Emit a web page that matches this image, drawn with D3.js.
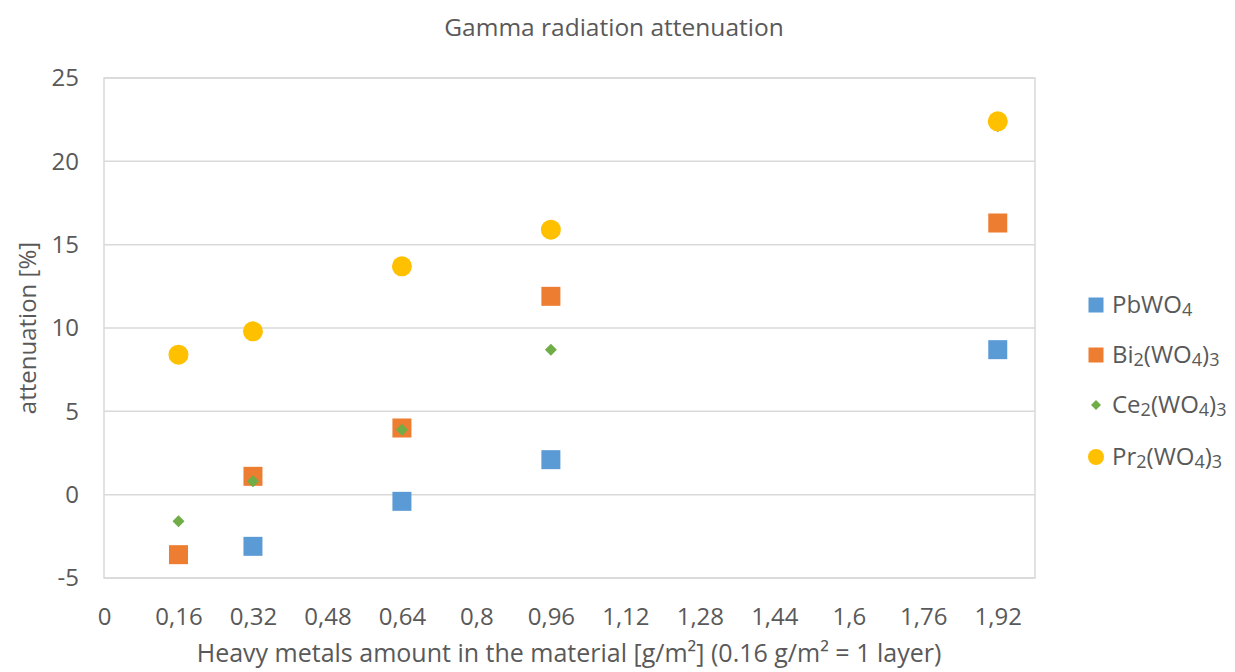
<!DOCTYPE html>
<html>
<head>
<meta charset="utf-8">
<script src="https://cdn.jsdelivr.net/npm/d3@7"></script>
<style>
  body { margin: 0; background: #fff; }
  text { font-family: "Open Sans", sans-serif; fill: #595959; }
</style>
</head>
<body>
<div id="chart"></div>
<script>
// data
var xValues = [0.16, 0.32, 0.64, 0.96, 1.92];
var pbwo4 = [null, -3.1, -0.4, 2.1, 8.7];
var bi2wo43 = [-3.6, 1.1, 4.0, 11.9, 16.3];
var ce2wo43 = [-1.6, 0.8, 3.9, 8.7, 22.1];
var pr2wo43 = [8.4, 9.8, 13.7, 15.9, 22.4];

var xTicks = [0, 0.16, 0.32, 0.48, 0.64, 0.8, 0.96, 1.12, 1.28, 1.44, 1.6, 1.76, 1.92];
var yTicks = [-5, 0, 5, 10, 15, 20, 25];

// legend names, [text, isSubscript]
var seriesNames = [
  [["PbWO", 0], ["4", 1]],
  [["Bi", 0], ["2", 1], ["(WO", 0], ["4", 1], [")", 0], ["3", 1]],
  [["Ce", 0], ["2", 1], ["(WO", 0], ["4", 1], [")", 0], ["3", 1]],
  [["Pr", 0], ["2", 1], ["(WO", 0], ["4", 1], [")", 0], ["3", 1]]
];
var seriesColors = ["#5B9BD5", "#ED7D31", "#70AD47", "#FFC000"];
var seriesShapes = ["square", "square", "diamond", "circle"];
var seriesValues = [pbwo4, bi2wo43, ce2wo43, pr2wo43];

var svgWidth = 1235;
var svgHeight = 672;

var margin = { top: 78, left: 104 };
var width = 1035 - margin.left;
var height = 578 - margin.top;

var svg = d3.select("#chart")
  .append("svg")
  .attr("width", svgWidth)
  .attr("height", svgHeight);

var chartGroup = svg.append("g")
  .attr("transform", `translate(${margin.left}, ${margin.top})`);

var xScale = d3.scaleLinear().domain([0, 2]).range([0, width]);
var yScale = d3.scaleLinear().domain([-5, 25]).range([height, 0]);

// gridlines
chartGroup.append("g")
  .selectAll("line")
  .data(yTicks)
  .enter()
  .append("line")
  .attr("x1", 0)
  .attr("x2", width)
  .attr("y1", d => yScale(d))
  .attr("y2", d => yScale(d))
  .attr("stroke", "#D9D9D9")
  .attr("stroke-width", 1.5);

// plot border
chartGroup.append("rect")
  .attr("x", 0)
  .attr("y", 0)
  .attr("width", width)
  .attr("height", height)
  .attr("fill", "none")
  .attr("stroke", "#D9D9D9")
  .attr("stroke-width", 1.5);

// axes (labels only, Excel style)
var bottomAxis = d3.axisBottom(xScale)
  .tickValues(xTicks)
  .tickSize(0)
  .tickPadding(30)
  .tickFormat(d => String(+d.toFixed(2)).replace(".", ","));

var leftAxis = d3.axisLeft(yScale)
  .tickValues(yTicks)
  .tickSize(0)
  .tickPadding(25)
  .tickFormat(d => d < 0 ? "-" + Math.abs(d) : d);

var xAxis = chartGroup.append("g")
  .attr("transform", `translate(0, ${height})`)
  .call(bottomAxis);

var yAxis = chartGroup.append("g")
  .call(leftAxis);

[xAxis, yAxis].forEach(function(ax) {
  ax.select(".domain").remove();
  ax.selectAll("text")
    .attr("font-family", "Open Sans, sans-serif")
    .attr("font-size", "24px")
    .attr("fill", "#595959");
});

// markers
function drawMarker(g, shape, color, big) {
  var s;
  if (shape === "square") {
    s = big ? 19 : 15;
    g.append("rect")
      .attr("x", -s / 2).attr("y", -s / 2)
      .attr("width", s).attr("height", s)
      .attr("fill", color);
  } else if (shape === "circle") {
    s = big ? 10 : 8;
    g.append("circle").attr("r", s).attr("fill", color);
  } else {
    s = big ? 6 : 5;
    g.append("path")
      .attr("d", `M0,${-s}L${s},0L0,${s}L${-s},0Z`)
      .attr("fill", color);
  }
}

seriesValues.forEach(function(vals, i) {
  var pts = xValues.map((x, j) => ({ x: x, y: vals[j] })).filter(d => d.y !== null);
  var grp = chartGroup.append("g").attr("class", "series");
  grp.selectAll("g")
    .data(pts)
    .enter()
    .append("g")
    .attr("transform", d => `translate(${xScale(d.x)}, ${yScale(d.y)})`)
    .each(function() {
      drawMarker(d3.select(this), seriesShapes[i], seriesColors[i], true);
    });
});

// title
svg.append("text")
  .attr("x", 614)
  .attr("y", 36)
  .attr("text-anchor", "middle")
  .attr("font-size", "24.5px")
  .text("Gamma radiation attenuation");

// x axis title
svg.append("text")
  .attr("x", 569)
  .attr("y", 662)
  .attr("text-anchor", "middle")
  .attr("font-size", "25px")
  .text("Heavy metals amount in the material [g/m²] (0.16 g/m² = 1 layer)");

// y axis title
svg.append("text")
  .attr("transform", "translate(36, 328) rotate(-90)")
  .attr("text-anchor", "middle")
  .attr("font-size", "24px")
  .text("attenuation [%]");

// legend
var legendY = [305, 355, 405, 457];
seriesNames.forEach(function(parts, i) {
  var lg = svg.append("g").attr("transform", `translate(1096, ${legendY[i]})`);
  drawMarker(lg, seriesShapes[i], seriesColors[i], false);
  var t = lg.append("text")
    .attr("x", 16)
    .attr("y", 8)
    .attr("font-size", "24px");
  parts.forEach(function(p) {
    t.append("tspan")
      .attr("font-size", p[1] ? "18px" : "24px")
      .attr("dy", p[1] ? 3 : (t.selectAll("tspan").size() > 1 ? -3 : 0))
      .text(p[0]);
  });
});
</script>
</body>
</html>
